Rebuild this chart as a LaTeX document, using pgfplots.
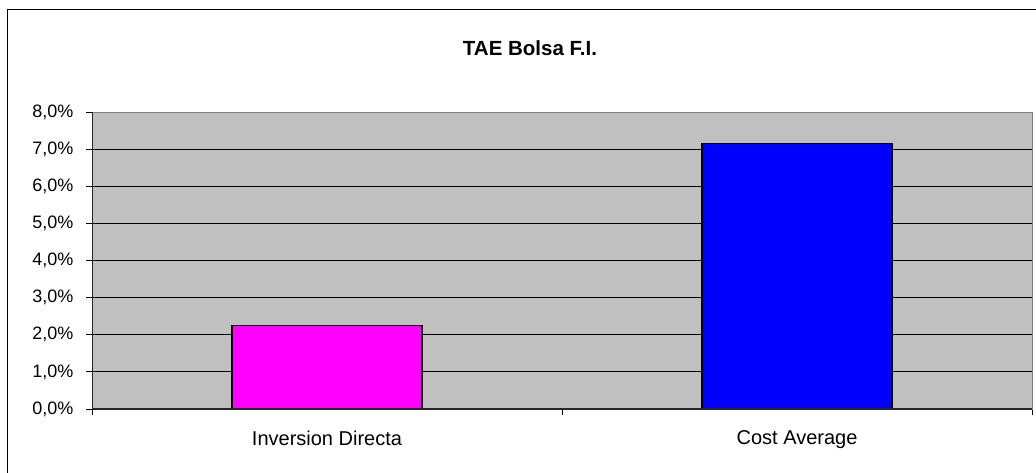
\documentclass[border=0pt]{standalone}
\usepackage{pgfplots}
\pgfplotsset{compat=1.18}
\usepackage{fontspec}
\setmainfont{Liberation Sans}
\definecolor{plotbg}{HTML}{C0C0C0}
\definecolor{barpink}{HTML}{FF00FF}
\definecolor{barblue}{HTML}{0000FF}
\begin{document}
\begin{tikzpicture}[x=1pt,y=1pt]
\path[use as bounding box] (0,0) rectangle (1036,472);
\clip (0,0) rectangle (1036,472);
\draw[black, line width=1pt] (7,-10) -- (7,462) -- (1050,462);
\node[font=\bfseries\fontsize{20.5}{24}\selectfont] at (530,424) {TAE Bolsa F.I.};
\begin{axis}[
  at={(92pt,63pt)}, anchor=south west,
  width=940pt, height=297pt, scale only axis,
  xmin=-0.5, xmax=1.5, ymin=0, ymax=8,
  ybar, bar width=0.404, bar shift=0pt,
  axis background/.style={fill=plotbg},
  axis line style={draw=gray, line width=1pt},
  ymajorgrids, grid style={black, line width=0.8pt},
  ytick={0,...,8},
  yticklabel={\pgfmathprintnumber[fixed,fixed zerofill,precision=1,use comma]{\tick}\%},
  /pgf/number format/assume math mode=true,
  tick label style={font=\fontsize{18}{21}\selectfont, black},
  y tick label style={xshift=-9pt},
  xtick={-0.5,0.5,1.5},
  x tick label as interval,
  xticklabels={Inversion Directa, Cost Average},
  x tick label style={yshift=-12pt, font=\fontsize{20}{23}\selectfont},
  xtick pos=bottom, ytick pos=left,
  tick align=outside,
  major tick length=6pt,
  tick style={black, line width=1pt},
]
\addplot[fill=barpink, draw=black, line width=1.5pt] coordinates {(0,2.25)};
\addplot[fill=barblue, draw=black, line width=1.5pt] coordinates {(1,7.15)};
\draw[black!85, line width=1.5pt] (rel axis cs:0,1) -- (rel axis cs:0,0) -- (rel axis cs:1,0);
\end{axis}
\end{tikzpicture}
\end{document}
